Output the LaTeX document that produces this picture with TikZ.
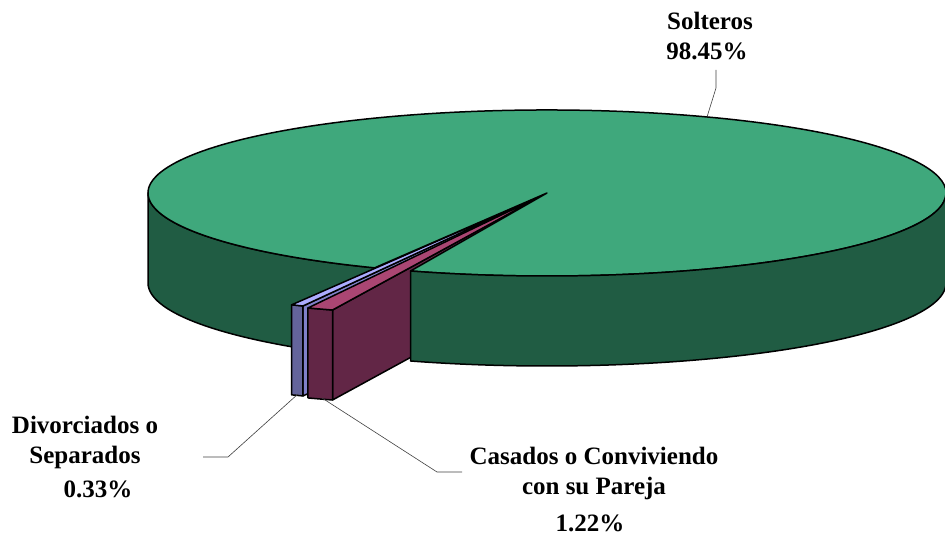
\documentclass[tikz,border=0pt]{standalone}
\usepackage{fontspec}
\setmainfont{Liberation Serif}

\definecolor{topgreen}{RGB}{63,168,124}
\definecolor{sidegreen}{RGB}{32,92,67}
\definecolor{casfront}{RGB}{98,38,70}
\definecolor{castop}{RGB}{170,70,115}
\definecolor{divfront}{RGB}{100,100,155}
\definecolor{divside}{RGB}{128,128,200}
\definecolor{divtop}{RGB}{172,172,255}

\begin{document}
\begin{tikzpicture}[x=1pt, y=1pt, line join=round]
    \tikzstyle{face} = [draw=black, line width=1.5pt]
    \tikzstyle{label} = [font=\bfseries\fontsize{25}{30}\selectfont, align=center, inner sep=0pt]
    \tikzstyle{leader} = [draw=black!75, line width=0.6pt]
    \tikzstyle{rim} = [x radius=399, y radius=83]

    \useasboundingbox (0,0) rectangle (945,535);

    % centre of the pie, top and bottom
    \coordinate (o) at (547,342);
    \coordinate (ob) at (547,252);

    % main pie, left side and its cut face
    \filldraw[face, fill=sidegreen] (148,342) arc[rim, start angle=180, end angle=244.4]
        -- ++(0,-90) arc[rim, start angle=244.4, end angle=180] -- cycle;
    \coordinate (pa) at ({547+399*cos(244.4)},{342+83*sin(244.4)});
    \filldraw[face, fill=sidegreen] (o) -- (pa) -- ++(0,-90) -- (ob) -- cycle;

    % Divorciados o Separados
    \begin{scope}[shift={(-83,-37)}]
        \coordinate (da) at ({547+399*cos(244.4)},{342+83*sin(244.4)});
        \coordinate (db) at ({547+399*cos(246.2)},{342+83*sin(246.2)});
        \filldraw[face, fill=divside] (o) -- (db) -- ++(0,-90) -- (ob) -- cycle;
        \filldraw[face, fill=divfront] (da) arc[rim, start angle=244.4, end angle=246.2]
            -- ++(0,-90) arc[rim, start angle=246.2, end angle=244.4] -- cycle;
        \filldraw[face, fill=divtop] (o) -- (da) arc[rim, start angle=244.4, end angle=246.2] -- cycle;
    \end{scope}

    % Casados o Conviviendo
    \begin{scope}[shift={(-78,-39)}]
        \coordinate (ca) at ({547+399*cos(246.2)},{342+83*sin(246.2)});
        \coordinate (cb) at ({547+399*cos(250)},{342+83*sin(250)});
        \filldraw[face, fill=casfront] (o) -- (cb) -- ++(0,-90) -- (ob) -- cycle;
        \filldraw[face, fill=casfront] (ca) arc[rim, start angle=246.2, end angle=250]
            -- ++(0,-90) arc[rim, start angle=250, end angle=246.2] -- cycle;
        \filldraw[face, fill=castop] (o) -- (ca) arc[rim, start angle=246.2, end angle=250] -- cycle;
    \end{scope}

    % main pie, top and right side
    \coordinate (pc) at ({547+399*cos(250)},{342+83*sin(250)});
    \filldraw[face, fill=topgreen] (o) -- (pc) arc[rim, start angle=250, end angle=604.4] -- cycle;
    \filldraw[face, fill=sidegreen] (pc) arc[rim, start angle=250, end angle=360]
        -- ++(0,-90) arc[rim, start angle=360, end angle=250] -- cycle;

    % labels
    \node[label] (sol) at (710,514) {Solteros};
    \node[label] (solp) at (707,484) {98.45\%};
    \node[label] (div) at (85,93) {Divorciados o\\Separados};
    \node[label] (divp) at (98,46) {0.33\%};
    \node[label] (cas) at (594,62) {Casados o Conviviendo\\con su Pareja};
    \node[label] (casp) at (590,12) {1.22\%};

    % leader lines
    \coordinate (s1) at (707,418);
    \coordinate (s2) at (716,447);
    \coordinate (s3) at (716,465);
    \coordinate (d1) at (298,141);
    \coordinate (d2) at (228,78);
    \coordinate (d3) at (203,78);
    \coordinate (c1) at (322,137);
    \coordinate (c2) at (437,63);
    \coordinate (c3) at (462,63);

    \draw[leader] (s1) -- (s2) -- (s3);
    \draw[leader] (d1) -- (d2) -- (d3);
    \draw[leader] (c1) -- (c2) -- (c3);
\end{tikzpicture}
\end{document}
